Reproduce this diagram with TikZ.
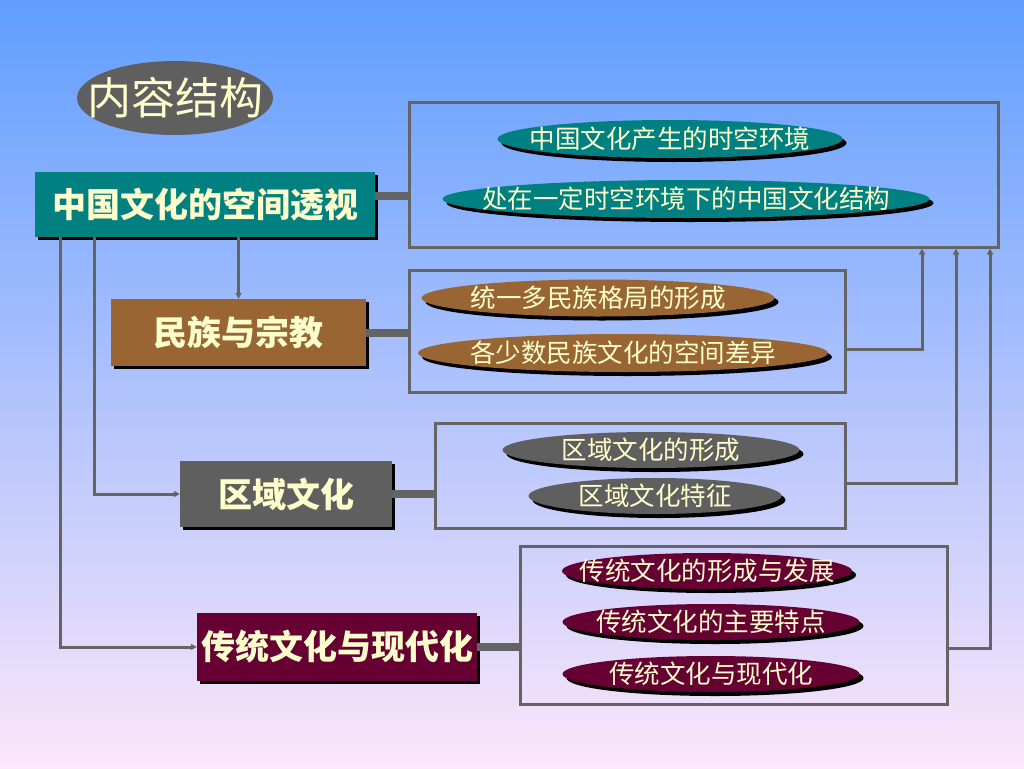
\documentclass[tikz,border=0pt]{standalone}
\usepackage{fontspec}
\setmainfont{Noto Sans CJK SC}
\usetikzlibrary{shapes.geometric,shadows,arrows.meta}
\definecolor{bgtop}{RGB}{96,158,255}
\definecolor{bgmid}{RGB}{158,200,244}
\definecolor{bgbot}{RGB}{252,230,250}
\definecolor{cream}{RGB}{255,255,204}
\definecolor{tealc}{RGB}{0,128,128}
\definecolor{brownc}{RGB}{153,102,51}
\definecolor{grayc}{RGB}{95,95,95}
\definecolor{maroonc}{RGB}{102,0,51}
\definecolor{linec}{RGB}{100,100,100}
\tikzset{
  mainbox/.style={rectangle,inner sep=0pt,text=cream,
    font=\fontsize{34}{34}\selectfont\bfseries,
    drop shadow={shadow xshift=3pt,shadow yshift=-3pt,fill=black,opacity=1}},
  subell/.style={ellipse,inner sep=0pt,text=cream,
    font=\fontsize{25.5}{26}\selectfont,
    drop shadow={shadow xshift=4pt,shadow yshift=-4pt,fill=black,opacity=1}},
  framebox/.style={rectangle,draw=linec,line width=3pt,inner sep=0pt},
  conn/.style={draw=linec,line width=3pt},
  arr/.style={conn,-{Triangle[length=6pt,width=6pt]}},
  bar/.style={draw=linec,line width=8pt}
}
\newcommand{\ztxt}[1]{\makebox[0pt]{#1}}
\begin{document}
\begin{tikzpicture}[x=1pt,y=-1pt]
\useasboundingbox (0,0) rectangle (1024,768);
\shade[top color=bgtop,middle color=bgmid,bottom color=bgbot] (0,0) rectangle (1024,768);

% title
\node[ellipse,fill=grayc,minimum width=196pt,minimum height=74pt,inner sep=0pt,
  text=cream,font=\fontsize{44}{44}\selectfont] (title) at (175,98) {\ztxt{内容结构}};

% frames
\node[framebox,minimum width=589pt,minimum height=145pt] (f1) at (703.5,174.5) {};
\node[framebox,minimum width=436pt,minimum height=122pt] (f2) at (627,331) {};
\node[framebox,minimum width=410pt,minimum height=105pt] (f3) at (640,475.5) {};
\node[framebox,minimum width=427pt,minimum height=158pt] (f4) at (733.5,625) {};

% main boxes
\node[mainbox,fill=tealc,minimum width=340pt,minimum height=65pt] (b1) at (205,204.5) {中国文化的空间透视};
\node[mainbox,fill=brownc,minimum width=255pt,minimum height=67pt] (b2) at (238.5,332.5) {民族与宗教};
\node[mainbox,fill=grayc,minimum width=212pt,minimum height=66pt] (b3) at (286,494) {区域文化};
\node[mainbox,fill=maroonc,minimum width=280pt,minimum height=68pt] (b4) at (337,647) {传统文化与现代化};

% ellipses
\node[subell,fill=tealc,minimum width=345pt,minimum height=38pt] (e11) at (670,139) {\ztxt{中国文化产生的时空环境}};
\node[subell,fill=tealc,minimum width=487pt,minimum height=38pt] (e12) at (686,199) {\ztxt{处在一定时空环境下的中国文化结构}};
\node[subell,fill=brownc,minimum width=353pt,minimum height=37pt] (e21) at (598,298) {\ztxt{统一多民族格局的形成}};
\node[subell,fill=brownc,minimum width=410pt,minimum height=38pt] (e22) at (623,353) {\ztxt{各少数民族文化的空间差异}};
\node[subell,fill=grayc,minimum width=297pt,minimum height=36pt] (e31) at (651,450) {\ztxt{区域文化的形成}};
\node[subell,fill=grayc,minimum width=253pt,minimum height=36pt] (e32) at (655,496) {\ztxt{区域文化特征}};
\node[subell,fill=maroonc,minimum width=290pt,minimum height=36pt] (e41) at (707,571) {\ztxt{传统文化的形成与发展}};
\node[subell,fill=maroonc,minimum width=297pt,minimum height=36pt] (e42) at (711,622) {\ztxt{传统文化的主要特点}};
\node[subell,fill=maroonc,minimum width=297pt,minimum height=36pt] (e43) at (711,674) {\ztxt{传统文化与现代化}};

% thick bars
\draw[bar] ([yshift=8.5pt]b1.east) -- ([yshift=8.5pt]b1.east -| f1.west);
\draw[bar] (b2.east) -- (b2.east -| f2.west);
\draw[bar] (b3.east) -- (b3.east -| f3.west);
\draw[bar] (b4.east) -- (b4.east -| f4.west);

% left connectors
\draw[arr] (b2.north |- b1.south) -- (b2.north);
\draw[arr] ([xshift=-111pt]b1.south) |- (b3.west);
\draw[arr] ([xshift=-145pt]b1.south) |- (b4.west);

% right connectors
\draw[arr] ([yshift=-18pt]f2.east) -| ([xshift=218.5pt]f1.south);
\draw[arr] ([yshift=-7.5pt]f3.east) -| ([xshift=252.5pt]f1.south);
\draw[arr] ([yshift=-23pt]f4.east) -| ([xshift=286.5pt]f1.south);
\end{tikzpicture}
\end{document}
